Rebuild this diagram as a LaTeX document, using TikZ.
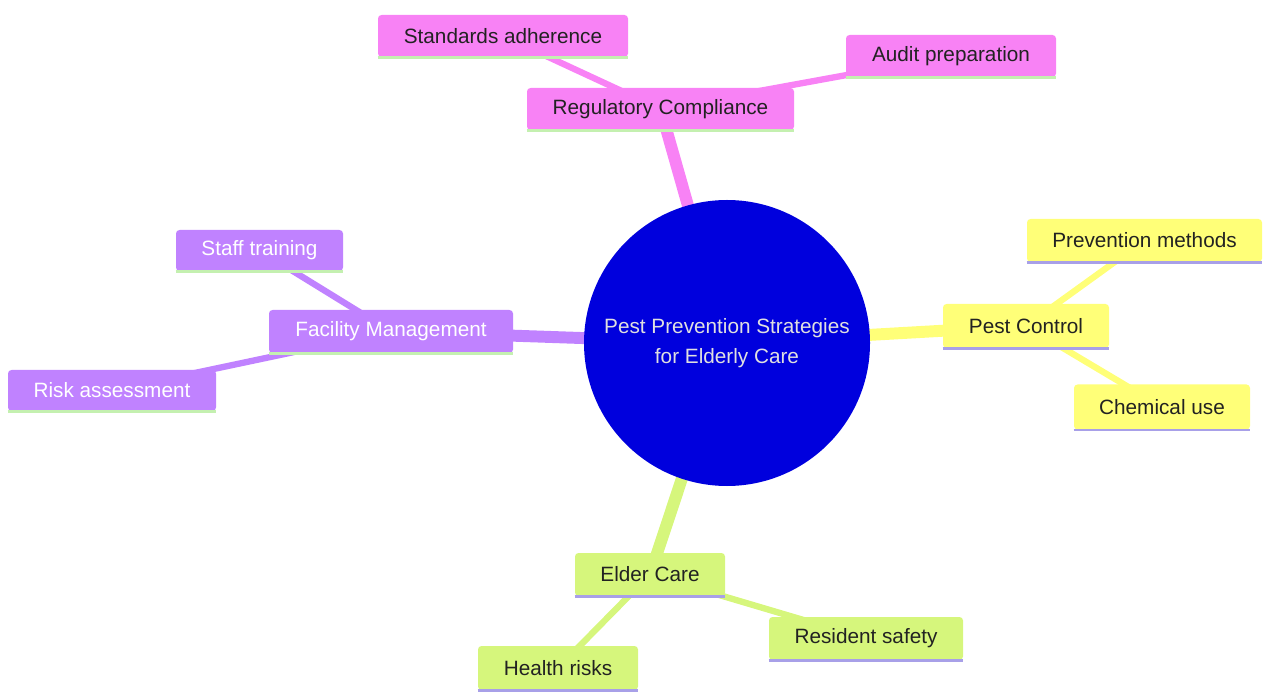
\documentclass[tikz,border=0pt]{standalone}
\usepackage{fontspec}
\setmainfont{Liberation Sans}
\usetikzlibrary{backgrounds}
\definecolor{cpink}{RGB}{248,130,245}
\definecolor{cyellow}{RGB}{255,255,120}
\definecolor{cpurple}{RGB}{192,130,255}
\definecolor{cgreen}{RGB}{214,246,124}
\definecolor{cblue}{RGB}{0,0,221}
\definecolor{lgreen}{RGB}{196,240,176}
\definecolor{lav}{RGB}{168,160,232}
\definecolor{dtext}{RGB}{34,34,34}
\tikzset{
  box/.style 2 args={rectangle, rounded corners=2pt, inner sep=0pt,
    minimum width=#1*0.569pt, minimum height=#2*0.569pt,
    font=\fontsize{11.8}{14}\selectfont},
  pinkbox/.style={fill=cpink, text=dtext},
  yellowbox/.style={fill=cyellow, text=dtext},
  purplebox/.style={fill=cpurple, text=white},
  greenbox/.style={fill=cgreen, text=dtext},
  mainedge/.style={line width=6.8pt},
  subedge/.style={line width=3.6pt},
  bline/.style={line width=1.4pt}
}
\begin{document}
\begin{tikzpicture}[x=0.569pt, y=-0.569pt]
\useasboundingbox (0,0) rectangle (1263,693);
% central
\node[circle, fill=cblue, minimum size=286*0.569pt, inner sep=0pt,
  text=white!88!black, align=center, font=\fontsize{11.8}{17}\selectfont]
  (root) at (727,343) {Pest Prevention Strategies\\for Elderly Care};
% main nodes
\node[box={267}{42}, pinkbox] (reg) at (660.5,109) {Regulatory Compliance};
\node[box={250}{42}, pinkbox] (std) at (503,36) {Standards adherence};
\node[box={210}{42}, pinkbox] (aud) at (951,56) {Audit preparation};
\node[box={166}{44}, yellowbox] (pc) at (1026,326) {Pest Control};
\node[box={235}{43}, yellowbox] (pm) at (1144.5,240.5) {Prevention methods};
\node[box={176}{45}, yellowbox] (cu) at (1162,407) {Chemical use};
\node[box={244}{43}, purplebox] (fm) at (391,331.5) {Facility Management};
\node[box={167}{41}, purplebox] (st) at (259.5,250.5) {Staff training};
\node[box={208}{41}, purplebox] (ra) at (112,390.5) {Risk assessment};
\node[box={150}{43}, greenbox] (ec) at (650,574.5) {Elder Care};
\node[box={160}{44}, greenbox] (hr) at (558,668) {Health risks};
\node[box={194}{43}, greenbox] (rs) at (866,638.5) {Resident safety};
% bottom lines
\foreach \n in {reg,std,aud,fm,st,ra}
  \draw[bline, lgreen] (\n.south west) -- (\n.south east);
\foreach \n in {pc,pm,cu,ec,hr,rs}
  \draw[bline, lav] (\n.south west) -- (\n.south east);
\begin{scope}[on background layer]
\draw[mainedge, cpink] (root.center) -- (reg.center);
\draw[mainedge, cyellow] (root.center) -- (pc.center);
\draw[mainedge, cpurple] (root.center) -- (fm.center);
\draw[mainedge, cgreen] (root.center) -- (ec.center);
\draw[subedge, cpink] (reg.center) -- (std.center);
\draw[subedge, cpink] (reg.center) -- (aud.center);
\draw[subedge, cyellow] (pc.center) -- (pm.center);
\draw[subedge, cyellow] (pc.center) -- (cu.center);
\draw[subedge, cpurple] (fm.center) -- (st.center);
\draw[subedge, cpurple] (fm.center) -- (ra.center);
\draw[subedge, cgreen] (ec.center) -- (hr.center);
\draw[subedge, cgreen] (ec.center) -- (rs.center);
\end{scope}
\end{tikzpicture}
\end{document}
